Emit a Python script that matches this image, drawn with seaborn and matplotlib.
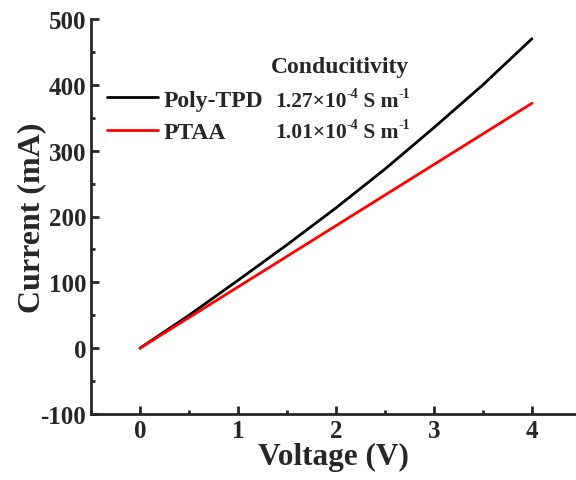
import numpy as np
import pandas as pd
import matplotlib
matplotlib.use("Agg")
import matplotlib.pyplot as plt
import seaborn as sns
from matplotlib.ticker import MultipleLocator
from matplotlib.lines import Line2D

voltage_tpd = [0, 0.5, 1, 1.5, 2, 2.5, 3, 3.5, 4]
current_tpd = [0, 50, 103, 157, 213, 272, 335, 400, 470]
voltage_ptaa = [0, 1, 2, 3, 4]
current_ptaa = [0, 93, 186, 279, 372]
series_names = ["Poly-TPD", "PTAA"]
cond_mantissa = ["1.27×10", "1.01×10"]
cond_exp = "-4"
unit_main = " S m"
unit_exp = "-1"
header = "Conducitivity"

df = pd.concat([
    pd.DataFrame({"V": voltage_tpd, "I": current_tpd, "s": series_names[0]}),
    pd.DataFrame({"V": voltage_ptaa, "I": current_ptaa, "s": series_names[1]}),
])

sns.set_style("ticks")
plt.rcParams['font.family'] = ['Liberation Serif', 'DejaVu Serif']
plt.rcParams['font.weight'] = 'bold'
plt.rcParams['axes.unicode_minus'] = False

fig = plt.figure(figsize=(5.76, 4.81), dpi=100)
ax = fig.add_axes([91/576, 1 - 415/481, 1 - 91/576, (415 - 20)/481])
sns.lineplot(data=df, x="V", y="I", hue="s", palette=["black", "red"], lw=2, ax=ax, legend=False)

ax.set_xlim(-0.5, 4.45)
ax.set_ylim(-100, 500)
ax.xaxis.set_major_locator(MultipleLocator(1))
ax.xaxis.set_minor_locator(MultipleLocator(0.5))
ax.yaxis.set_major_locator(MultipleLocator(100))
ax.yaxis.set_minor_locator(MultipleLocator(50))
ax.tick_params(which='both', direction='in', width=2, labelsize=18)
ax.tick_params(which='major', length=6)
ax.tick_params(which='minor', length=3)
for lbl in ax.get_xticklabels() + ax.get_yticklabels():
    lbl.set_fontweight('bold')
for s in ['top', 'right']:
    ax.spines[s].set_visible(False)
for s in ['left', 'bottom']:
    ax.spines[s].set_linewidth(2)

ax.set_xlabel("Voltage (V)", fontsize=22.5, fontweight='bold', labelpad=0)
ax.set_ylabel("Current (mA)", fontsize=23, fontweight='bold', labelpad=-4)

handles = [Line2D([], [], color=c, lw=2) for c in ["black", "red"]]
leg = ax.legend(handles, series_names, loc='upper left',
                bbox_to_anchor=((107 - 91) / 485, 1 - (90 - 20) / 395),
                frameon=False, handlelength=2.15, handletextpad=0.25,
                labelspacing=0.47, borderpad=0, borderaxespad=0,
                prop={'weight': 'bold', 'size': 17})

fs = 15.5
ax.text((340 - 91) / 485, 1 - (67 - 20) / 395, header, transform=ax.transAxes,
        ha='center', va='center', fontsize=17, fontweight='bold')
for i, m in enumerate(cond_mantissa):
    yrow = 1 - ([107, 138][i] - 20) / 395
    t1 = ax.text((275 - 91) / 485, yrow, m, transform=ax.transAxes,
                 ha='left', va='baseline', fontsize=fs, fontweight='bold')
    t2 = ax.annotate(cond_exp, xy=(1, 0.55), xycoords=t1, ha='left', va='bottom',
                     fontsize=10, fontweight='bold')
    t3 = ax.annotate(unit_main, xy=(1, 0), xycoords=(t2, t1), ha='left', va='bottom',
                     fontsize=fs, fontweight='bold')
    ax.annotate(unit_exp, xy=(1, 0.55), xycoords=(t3, t1), ha='left', va='bottom',
                fontsize=10, fontweight='bold')

fig.savefig("out.png", dpi=100)
